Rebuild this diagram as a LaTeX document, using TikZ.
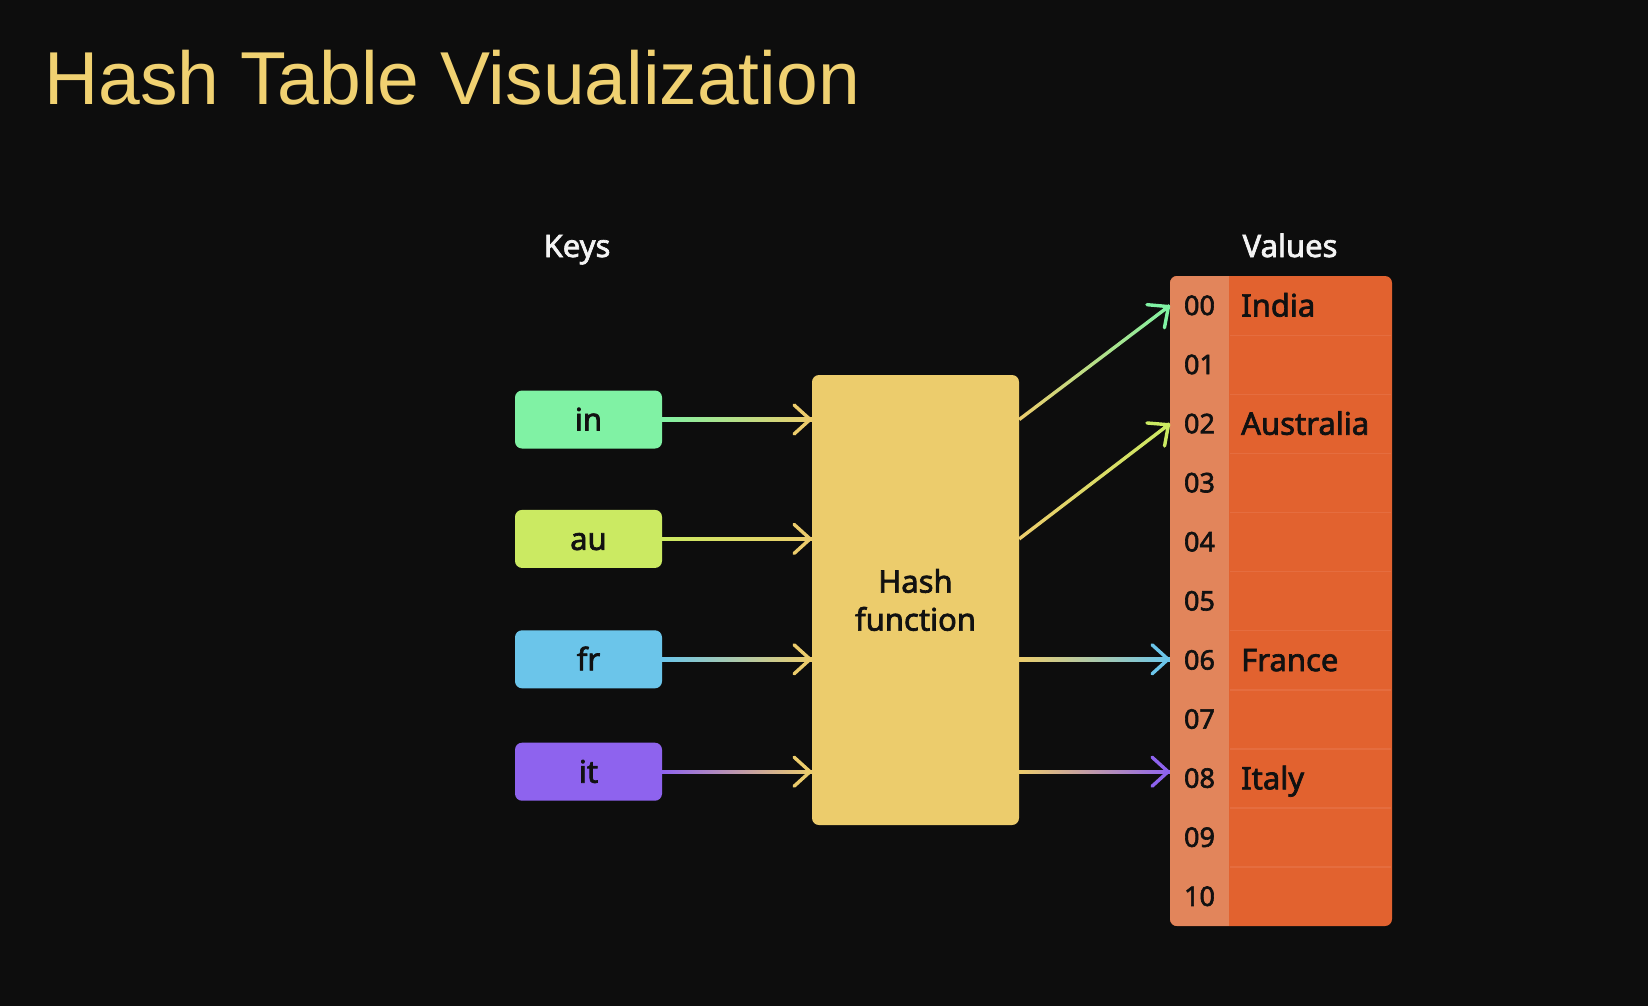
\documentclass[tikz,border=0pt]{standalone}
\usepackage{fontspec}
\setmainfont{Noto Sans}
\newfontfamily\titlefont{Liberation Sans}
\newfontfamily\lblfont{Noto Sans}[FakeBold=2.2]
\usetikzlibrary{arrows.meta,positioning,calc}

\definecolor{bgcol}{HTML}{0D0D0D}
\definecolor{titlecol}{HTML}{F0D171}
\definecolor{inkcol}{HTML}{111111}
\definecolor{headcol}{HTML}{F4F4F4}
\definecolor{incol}{HTML}{80F2A4}
\definecolor{aucol}{HTML}{CBEA62}
\definecolor{frcol}{HTML}{6BC5EA}
\definecolor{itcol}{HTML}{8E63EE}
\definecolor{hashcol}{HTML}{ECCC6C}
\definecolor{idxcol}{HTML}{E2855B}
\definecolor{valcol}{HTML}{E2622F}
\definecolor{sepcol}{HTML}{E56D3F}

% colour-blended connector: from, to, start colour, end colour
\newcommand{\gradlink}[4]{%
  \shade[left color=#3, right color=#4]
    ($(#1)!1.7pt!90:(#2)$) -- ($(#1)!1.7pt!-90:(#2)$) --
    ($(#2)!1.7pt!90:(#1)$) -- ($(#2)!1.7pt!-90:(#1)$) -- cycle;
  \draw[link, draw=#4, -{Straight Barb[length=16pt, width=29pt, round]}] ($(#1)!0.96!(#2)$) -- (#2);
}

\begin{document}
\begin{tikzpicture}[x=1pt, y=-1pt,
  key/.style={rounded corners=7pt, minimum width=147pt, minimum height=58pt, text=inkcol,
    font=\lblfont\fontsize{31}{36}\selectfont, text height=22pt, text depth=0pt},
  hashbox/.style={fill=hashcol, rounded corners=7pt, minimum width=207pt, minimum height=450pt,
    align=center, text=inkcol, font=\lblfont\fontsize{31}{38}\selectfont},
  head/.style={text=headcol, font=\lblfont\fontsize{31}{36}\selectfont, anchor=base},
  idxcell/.style={minimum width=59pt, minimum height=59.09pt, inner sep=0pt, text=inkcol,
    font=\lblfont\fontsize{27}{30}\selectfont, text height=19pt, text depth=0pt},
  valcell/.style={anchor=west, minimum width=163pt, minimum height=59.09pt, inner xsep=12pt,
    text width=139pt, align=left, text=inkcol, font=\lblfont\fontsize{31}{36}\selectfont,
    text height=22pt, text depth=0pt},
  sepline/.style={draw=sepcol, line width=1.5pt},
  link/.style={line width=3.4pt},
]
  \useasboundingbox (0,0) rectangle (1648,1006);
  \fill[bgcol] (0,0) rectangle (1648,1006);

  \node[anchor=base west, text=titlecol, font=\titlefont\fontsize{75}{80}\selectfont, inner sep=0pt]
    (title) at (44,105) {Hash Table Visualization};

  \node[head] (keyshead) at (577,257) {Keys};
  \node[head] (valshead) at (1290,257) {Values};

  % keys
  \node[key, fill=incol] (kin) at (588.5,419.5) {in};
  \node[key, fill=aucol, below=61pt of kin] (kau) {au};
  \node[key, fill=frcol, below=62pt of kau] (kfr) {fr};
  \node[key, fill=itcol, below=54pt of kfr] (kit) {it};

  \node[hashbox] (hash) at (915.5,600) {Hash\\function};

  % table
  \fill[valcol, rounded corners=7pt] (1170,276) rectangle (1392,926);
  \begin{scope}
    \clip[rounded corners=7pt] (1170,276) rectangle (1392,926);
    \fill[idxcol] (1170,276) rectangle (1229,926);
  \end{scope}
  \foreach \idx/\val [count=\n from 0] in {00/India, 01/, 02/Australia, 03/, 04/, 05/,
      06/France, 07/, 08/Italy, 09/, 10/}{
    \node[idxcell] (i\idx) at (1199.5,{276+59.09*(\n+0.5)}) {\idx};
    \node[valcell] (v\idx) at (1229,{276+59.09*(\n+0.5)}) {\val};
  }
  \foreach \idx in {00,01,02,03,04,05,06,07,08,09}
    \draw[sepline] ([xshift=1pt]v\idx.south west) -- ([xshift=-1pt]v\idx.south east);

  % connectors
  \foreach \k in {in,au,fr,it}{
    \coordinate (h\k) at (k\k.east -| hash.west);
    \coordinate (o\k) at (k\k.east -| hash.east);
  }
  \coordinate (t06) at (kfr.east -| i06.west);
  \coordinate (t08) at (kit.east -| i08.west);

  \gradlink{kin.east}{hin}{incol}{hashcol}
  \gradlink{kau.east}{hau}{aucol}{hashcol}
  \gradlink{kfr.east}{hfr}{frcol}{hashcol}
  \gradlink{kit.east}{hit}{itcol}{hashcol}

  \gradlink{oin}{i00.west}{hashcol}{incol}
  \gradlink{oau}{i02.west}{hashcol}{aucol}
  \gradlink{ofr}{t06}{hashcol}{frcol}
  \gradlink{oit}{t08}{hashcol}{itcol}
\end{tikzpicture}
\end{document}
